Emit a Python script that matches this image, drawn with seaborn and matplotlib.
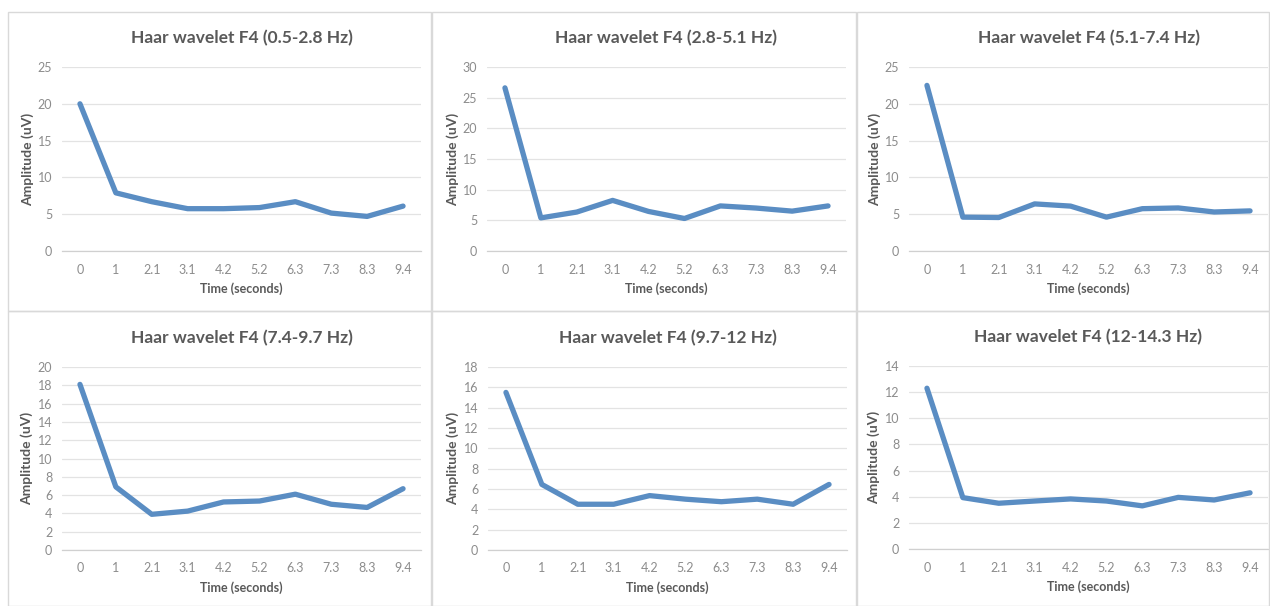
import matplotlib
matplotlib.use("Agg")
import matplotlib.pyplot as plt
import seaborn as sns
import pandas as pd
from matplotlib.patches import Rectangle

sns.set_theme(style="white")
plt.rcParams['font.family'] = ['Lato', 'DejaVu Sans']

time_labels = ["0", "1", "2.1", "3.1", "4.2", "5.2", "6.3", "7.3", "8.3", "9.4"]

titles = [
    "Haar wavelet F4 (0.5-2.8 Hz)",
    "Haar wavelet F4 (2.8-5.1 Hz)",
    "Haar wavelet F4 (5.1-7.4 Hz)",
    "Haar wavelet F4 (7.4-9.7 Hz)",
    "Haar wavelet F4 (9.7-12 Hz)",
    "Haar wavelet F4 (12-14.3 Hz)",
]

band_0_5_2_8 = [20.0, 7.9, 6.7, 5.75, 5.75, 5.9, 6.7, 5.15, 4.7, 6.1]
band_2_8_5_1 = [26.6, 5.4, 6.35, 8.25, 6.45, 5.3, 7.35, 7.0, 6.5, 7.35]
band_5_1_7_4 = [22.5, 4.6, 4.55, 6.4, 6.1, 4.6, 5.75, 5.85, 5.3, 5.45]
band_7_4_9_7 = [18.1, 6.9, 3.9, 4.25, 5.25, 5.35, 6.1, 5.0, 4.65, 6.7]
band_9_7_12 = [15.5, 6.45, 4.5, 4.5, 5.35, 5.0, 4.75, 5.0, 4.5, 6.45]
band_12_14_3 = [12.3, 3.93, 3.5, 3.67, 3.83, 3.67, 3.3, 3.95, 3.75, 4.3]

series = [band_0_5_2_8, band_2_8_5_1, band_5_1_7_4, band_7_4_9_7, band_9_7_12, band_12_14_3]
y_max = [25, 30, 25, 20, 18, 14]
y_step = [5, 5, 5, 2, 2, 2]

W, H = 1270, 606
fig = plt.figure(figsize=(W / 100, H / 100), dpi=100)
fig.patch.set_facecolor("white")

# panel frames (pixel coords, top-origin): x0, y0, x1, y1
frames = [
    (8, 12, 431, 311), (432, 12, 856, 311), (857, 12, 1269, 311),
    (8, 311, 431, 606), (432, 311, 856, 606), (857, 311, 1269, 606),
]
for (x0, y0, x1, y1) in frames:
    fig.patches.append(Rectangle((x0 / W, 1 - y1 / H), (x1 - x0) / W, (y1 - y0) / H,
                                 transform=fig.transFigure, fill=False,
                                 edgecolor="#D9D9D9", linewidth=1.0, zorder=0))

# plot areas (pixel coords, top-origin)
areas = [
    (62, 67, 421, 251), (487, 67, 846, 251), (909, 67, 1268, 251),
    (62, 367, 421, 550), (488, 367, 847, 550), (909, 366, 1268, 549),
]

line_color = "#5A8DC3"
for i in range(6):
    x0, y0, x1, y1 = areas[i]
    ax = fig.add_axes([x0 / W, 1 - y1 / H, (x1 - x0) / W, (y1 - y0) / H])
    df = pd.DataFrame({"idx": list(range(len(time_labels))), "amp": series[i]})
    sns.lineplot(data=df, x="idx", y="amp", ax=ax, color=line_color,
                 linewidth=3.8, solid_joinstyle="round", solid_capstyle="round")
    ax.set_xlim(-0.5, len(time_labels) - 0.5)
    ax.set_ylim(0, y_max[i])
    ax.set_yticks(list(range(0, y_max[i] + 1, y_step[i])))
    ax.set_xticks(list(range(len(time_labels))))
    ax.set_xticklabels(time_labels)
    ax.grid(axis="y", color="#E3E3E3", linewidth=0.9)
    ax.grid(axis="x", visible=False)
    ax.set_axisbelow(True)
    for s in ["top", "right", "left"]:
        ax.spines[s].set_visible(False)
    ax.spines["bottom"].set_color("#D0D0D0")
    ax.spines["bottom"].set_linewidth(0.9)
    ax.tick_params(axis="both", length=0, labelsize=9, labelcolor="#8C8C8C")
    ax.tick_params(axis="x", pad=9)
    ax.tick_params(axis="y", pad=7)
    ax.set_xlabel("Time (seconds)", fontsize=9, color="#595959", fontweight="bold", labelpad=5)
    ax.set_ylabel("Amplitude (uV)", fontsize=10, color="#595959", fontweight="bold", labelpad=3)
    ax.set_title(titles[i], fontsize=12.5, color="#595959", fontweight="bold", pad=17)
    ax.set_facecolor("none")

fig.savefig("out.png", dpi=100, facecolor="white")
